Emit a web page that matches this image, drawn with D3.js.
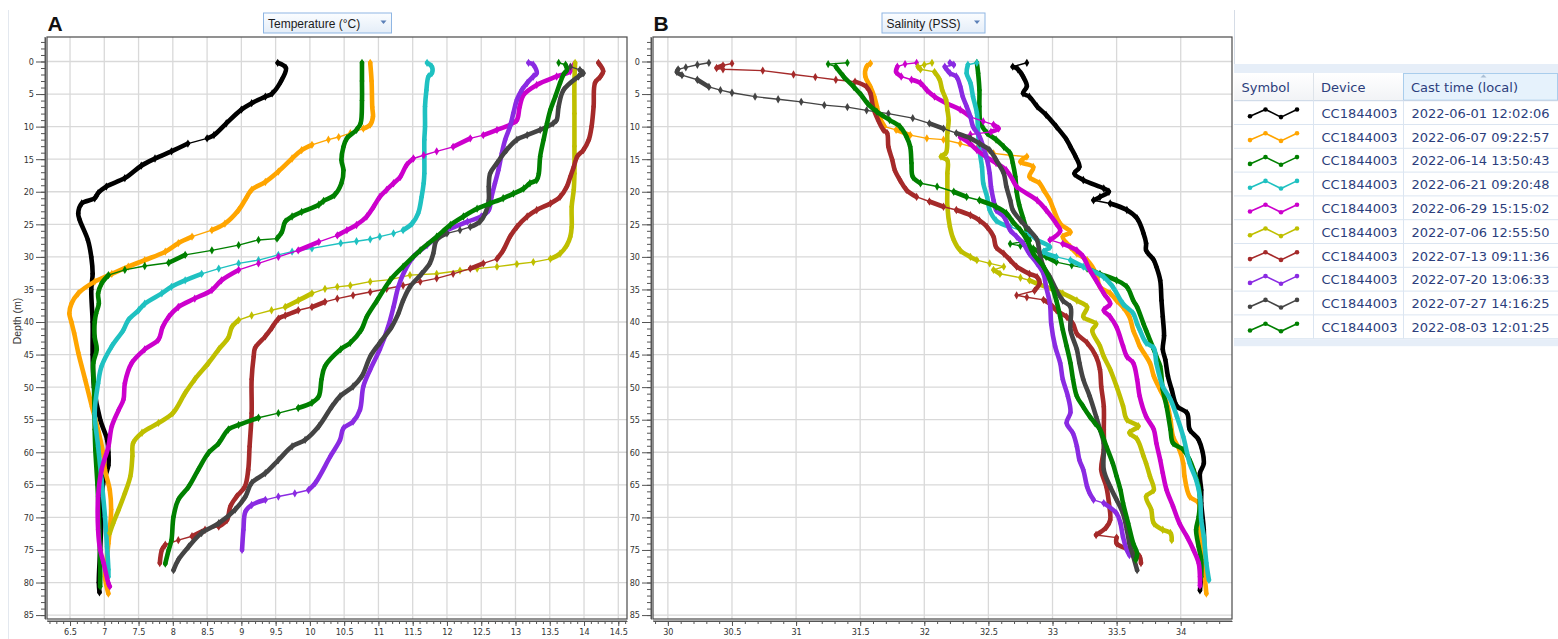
<!DOCTYPE html>
<html><head><meta charset="utf-8">
<script src="https://cdn.jsdelivr.net/npm/d3@7"></script>
<style>body{margin:0;background:#fff;}svg{display:block;}</style>
</head><body>
<svg id="c" width="1558" height="639"></svg>
<script>
// ---------- DATA ----------
const castTimes = ["2022-06-01 12:02:06","2022-06-07 09:22:57","2022-06-14 13:50:43","2022-06-21 09:20:48","2022-06-29 15:15:02","2022-07-06 12:55:50","2022-07-13 09:11:36","2022-07-20 13:06:33","2022-07-27 14:16:25","2022-08-03 12:01:25"];
const devices = ["CC1844003","CC1844003","CC1844003","CC1844003","CC1844003","CC1844003","CC1844003","CC1844003","CC1844003","CC1844003"];
const colors = ["#000000","#FFA500","#008000","#1FC1C1","#CC00CC","#BFBF00","#A52A2A","#8A2BE2","#444444","#008000"];
const depthTicks = [0,5,10,15,20,25,30,35,40,45,50,55,60,65,70,75,80,85];
const tempTicks = [6.5,7,7.5,8,8.5,9,9.5,10,10.5,11,11.5,12,12.5,13,13.5,14,14.5];
const salTicks = [30,30.5,31,31.5,32,32.5,33,33.5,34];

// temperature profiles: [depth m, temperature °C]
const temp01 = [[0.2,9.53],[1,9.65],[3,9.58],[4.9,9.45],[5.4,9.35],[6.4,9.15],[7.4,9.0],[9.5,8.78],[11.3,8.6],[11.8,8.5],[12.6,8.22],[13.8,7.98],[14.9,7.74],[16,7.54],[17.9,7.3],[19.2,7.03],[20.2,6.91],[21,6.86],[21.8,6.67],[23.3,6.62],[24.3,6.64],[27.4,6.76],[30,6.81],[32.6,6.83],[35,6.81],[40,6.83],[45,6.83],[50,6.85],[55,6.94],[58,7.04],[60,7.06],[62,7.06],[65,6.98],[70,6.96],[75,6.94],[80,6.92],[81.5,6.93]];
const temp02 = [[0.2,10.88],[3,10.9],[7,10.91],[8.5,10.92],[9.7,10.88],[10.3,10.78],[11,10.59],[11.6,10.42],[12,10.27],[12.8,10.03],[13.6,9.88],[14.9,9.74],[16.9,9.54],[18.5,9.35],[19.7,9.15],[20.8,9.08],[22.8,8.96],[24.9,8.76],[25.9,8.57],[26.9,8.28],[27.9,8.08],[29.2,7.89],[30.5,7.59],[31.5,7.35],[32.6,7.11],[33.8,6.86],[35.6,6.62],[37.2,6.52],[38.7,6.49],[40,6.52],[41.7,6.56],[44.7,6.62],[48.8,6.72],[53,6.82],[57,6.92],[60.6,6.99],[62.7,7.01],[65.8,7.08],[68.8,7.1],[71.9,7.08],[74,7.06],[77,7.03],[79.1,7.01],[81.7,7.06]];
const temp03 = [[0.2,10.76],[3,10.76],[6,10.76],[9.5,10.74],[10.5,10.68],[11.8,10.54],[13.1,10.49],[15.1,10.46],[16.7,10.49],[18.7,10.46],[20.5,10.36],[21.4,10.2],[22,10.13],[23.1,9.88],[23.8,9.74],[24.6,9.64],[26.2,9.59],[27.2,9.52],[27.4,9.25],[28.2,8.96],[29,8.57],[29.7,8.18],[30.9,7.94],[31.4,7.59],[32,7.3],[32.8,7.06],[34.1,6.96],[35.6,6.91],[37.2,6.92],[38.7,6.88],[40,6.86],[42.3,6.86],[44.2,6.89],[46.3,6.84],[50,6.85],[56.5,6.86],[59.7,6.87],[65,6.9],[70,6.92],[77,6.94],[80.6,6.94]];
const temp04 = [[0.2,11.71],[0.8,11.78],[1.8,11.78],[2.3,11.73],[4.4,11.7],[6.9,11.68],[10,11.68],[12,11.67],[14.6,11.67],[17.2,11.67],[18.7,11.66],[20.8,11.63],[23.3,11.58],[24.9,11.49],[25.9,11.36],[26.4,11.22],[26.9,11.02],[27.3,10.88],[27.6,10.68],[27.9,10.45],[28.7,10.03],[29.2,9.74],[29.7,9.54],[30.5,9.25],[31,8.96],[31.8,8.67],[32.6,8.42],[33.6,8.18],[34.6,7.98],[35.6,7.84],[37.2,7.59],[38.2,7.5],[39.7,7.35],[41.2,7.28],[43.7,7.11],[46.8,6.96],[49.4,6.91],[54,6.86],[59.1,6.91],[64.2,6.96],[69.9,7.01],[74.5,7.04],[78,7.06],[79.1,7.06]];
const temp05 = [[0.5,13.85],[1.5,13.8],[2.3,13.6],[3.6,13.31],[5.1,13.12],[7,13.06],[9,13.02],[9.7,12.92],[10.5,12.73],[11.3,12.53],[11.8,12.34],[13.1,12.09],[13.8,11.85],[14.4,11.66],[14.9,11.51],[15.9,11.41],[17.7,11.32],[18.7,11.22],[19.7,11.12],[20.8,11.02],[22.3,10.93],[23.8,10.83],[25.1,10.68],[25.9,10.54],[26.7,10.4],[27.7,10.13],[29,9.83],[30,9.54],[31,9.25],[32,8.96],[33.6,8.71],[35.1,8.57],[36.4,8.32],[37.7,8.08],[39.2,7.94],[40.8,7.85],[42.7,7.79],[44.2,7.59],[46.3,7.4],[49.4,7.3],[51.9,7.28],[53.5,7.21],[56,7.11],[59.1,7.06],[62.7,6.96],[66.8,6.91],[71.9,6.91],[75,6.94],[77,6.99],[80.1,7.06],[80.6,7.08]];
const temp06 = [[0.2,13.87],[3,13.86],[8,13.86],[13,13.86],[17.2,13.86],[19.7,13.85],[22.3,13.82],[25.4,13.82],[26.9,13.8],[28.2,13.75],[29.5,13.65],[30.3,13.51],[30.8,13.26],[31.1,13.02],[31.5,12.73],[31.8,12.44],[32.1,12.19],[32.6,11.85],[32.8,11.46],[33.5,11.17],[33.8,10.88],[34.4,10.59],[34.6,10.4],[34.9,10.22],[35.6,10.03],[36.7,9.83],[37.7,9.64],[38.2,9.44],[39,9.15],[39.7,8.96],[40.8,8.86],[42.4,8.81],[44.2,8.67],[46.3,8.52],[48.8,8.32],[50.9,8.18],[54,8.0],[55.5,7.79],[57,7.55],[58.6,7.42],[60.6,7.41],[63.7,7.38],[66.3,7.3],[68.8,7.21],[70.9,7.13],[72.4,7.08]];
const temp07 = [[0.2,14.21],[1.5,14.28],[2.3,14.24],[3.3,14.16],[6.9,14.14],[10,14.11],[12,14.07],[13.6,13.99],[14.6,13.9],[16.2,13.85],[17.7,13.8],[19.2,13.75],[20.8,13.65],[21.8,13.51],[22.8,13.31],[23.8,13.17],[25.4,13.02],[26.9,12.92],[29,12.82],[30.3,12.73],[31,12.53],[31.8,12.34],[32.6,12.09],[33.3,11.85],[33.8,11.61],[34.4,11.36],[34.9,11.12],[35.4,10.88],[35.9,10.63],[36.4,10.4],[36.9,10.22],[37.7,10.03],[38.2,9.83],[39,9.64],[39.5,9.54],[40.8,9.45],[42.2,9.35],[44,9.2],[45.3,9.18],[48.8,9.15],[54,9.15],[59.1,9.12],[62.7,9.1],[65.3,9.05],[66.8,8.93],[68.3,8.84],[70.4,8.79],[71.4,8.67],[71.9,8.47],[72.9,8.28],[73.5,8.08],[74.2,7.89],[75,7.84],[77,7.81]];
const temp08 = [[0.2,13.19],[0.5,13.26],[1.8,13.31],[2.3,13.26],[3.3,13.17],[4.4,13.09],[5.9,13.02],[7.9,12.97],[10,12.92],[12,12.85],[14.1,12.8],[16.7,12.75],[18.7,12.7],[20.8,12.65],[22.8,12.61],[23.8,12.5],[24.6,12.3],[26.2,11.95],[28.2,11.71],[30,11.51],[32,11.39],[34.6,11.29],[37.7,11.22],[40.8,11.14],[44.2,11.02],[47.3,10.88],[49.9,10.78],[53.5,10.73],[55.3,10.63],[56.3,10.49],[58.1,10.44],[60.6,10.3],[64.7,10.08],[65.8,9.98],[66.3,9.78],[66.8,9.54],[67.3,9.35],[68.1,9.15],[69.1,9.06],[71.9,9.03],[75,9.01]];
const temp09 = [[0.8,13.8],[1.3,13.94],[1.8,13.99],[2.3,13.92],[4.4,13.7],[6.9,13.63],[9,13.6],[9.5,13.55],[10.5,13.36],[11.3,13.17],[12,13.02],[13.6,12.87],[15.6,12.73],[17.2,12.63],[19.2,12.61],[21.3,12.61],[23.3,12.56],[24.6,12.48],[25.4,12.34],[25.9,12.19],[26.4,12.0],[27.4,11.85],[29.5,11.8],[31,11.75],[32.6,11.63],[34.6,11.46],[36.7,11.36],[38.7,11.29],[40.8,11.19],[43.2,11.02],[45.3,10.88],[48.3,10.76],[49.9,10.63],[51.4,10.44],[53,10.32],[56,10.13],[58.1,9.93],[59.1,9.74],[61.2,9.54],[63.2,9.35],[64.7,9.15],[66.8,9.06],[68.8,8.91],[70.9,8.67],[72.4,8.42],[74.5,8.23],[76.5,8.08],[78.1,8.01]];
const temp10 = [[0.2,13.63],[0.5,13.73],[1.3,13.75],[2,13.7],[3.3,13.65],[5.4,13.58],[7.4,13.51],[9.5,13.46],[12,13.41],[14.6,13.36],[17.2,13.34],[18.2,13.31],[18.7,13.21],[19.5,13.12],[20.3,12.97],[21,12.82],[21.8,12.63],[22.6,12.44],[23.8,12.24],[25.1,12.05],[26.9,11.85],[29,11.61],[31.5,11.36],[33.6,11.17],[36.7,10.98],[39.2,10.83],[41.2,10.75],[43.2,10.59],[44.2,10.45],[46.8,10.22],[48.8,10.17],[51.4,10.13],[52.4,10.03],[53.2,9.83],[54,9.54],[54.7,9.25],[55.8,8.96],[56.5,8.81],[58.6,8.67],[60.1,8.52],[62.7,8.37],[65.3,8.23],[67.3,8.08],[69.9,8.01],[73.5,7.98],[75,7.94],[77.1,7.89]];

// salinity profiles: [depth m, salinity PSS]
const sal01 = [[0.2,32.8],[0.8,32.69],[1.2,32.73],[2.3,32.77],[3.8,32.8],[4.9,32.77],[5.4,32.82],[6.9,32.88],[8.2,32.95],[10,33.03],[12,33.11],[13.1,33.14],[14.6,33.18],[16.2,33.21],[17.2,33.17],[18.2,33.24],[19.5,33.4],[20,33.44],[20.8,33.37],[21.3,33.32],[21.8,33.45],[22.8,33.58],[24.1,33.66],[26.4,33.71],[27.9,33.73],[29,33.73],[30.5,33.79],[31.5,33.81],[33.6,33.84],[36.7,33.85],[39.2,33.86],[42.1,33.87],[44.2,33.86],[45.8,33.88],[48.3,33.9],[50.4,33.93],[52.9,33.97],[54,34.05],[56.5,34.07],[58.1,34.14],[61.7,34.18],[63.2,34.15],[65.8,34.16],[67.8,34.16],[71.9,34.18],[76,34.18],[79.1,34.16],[81.2,34.15]];
const sal02 = [[0.3,31.58],[0.8,31.55],[2.3,31.54],[3.9,31.58],[5.4,31.61],[6.9,31.63],[8.5,31.65],[10,31.69],[10.5,31.78],[11.3,31.89],[11.8,32.02],[12,32.15],[12.6,32.28],[13.3,32.41],[14.1,32.54],[14.4,32.67],[14.6,32.8],[15.4,32.75],[16.2,32.85],[17.7,32.82],[18.7,32.9],[19.7,32.93],[21.3,32.98],[22.8,33.01],[24.9,33.06],[26.2,33.14],[26.9,33.08],[28.5,33.14],[29.5,33.19],[30.5,33.27],[32.6,33.34],[34.6,33.37],[35.6,33.45],[36.7,33.5],[37.7,33.55],[39.2,33.6],[41.3,33.63],[42.7,33.66],[43.7,33.68],[46.3,33.76],[48.3,33.79],[50.4,33.84],[52.4,33.89],[55,33.92],[57.6,33.94],[59.6,33.99],[61.7,34.02],[63.7,34.03],[66.8,34.07],[67.8,34.14],[70.9,34.15],[74.5,34.16],[77,34.18],[79.6,34.19],[81.7,34.2]];
const sal03 = [[0.2,32.41],[1.8,32.42],[4.4,32.43],[6.9,32.43],[9.5,32.44],[11,32.49],[12,32.56],[13.1,32.62],[14.1,32.67],[15.6,32.69],[17.7,32.71],[20,32.72],[22,32.74],[24,32.77],[26,32.8],[27.5,32.82],[28,32.67],[28.3,32.75],[28.7,32.85],[30,32.95],[30.8,33.03],[31.3,33.15],[31.8,33.27],[32.6,33.37],[33.6,33.5],[34.6,33.58],[36.7,33.63],[37.7,33.66],[40.3,33.71],[41.3,33.73],[44.2,33.79],[45.3,33.81],[46.8,33.84],[50.4,33.86],[53,33.89],[56.5,33.92],[58.6,33.94],[59.6,34.02],[61.2,34.07],[62.7,34.1],[65.3,34.14],[67.3,34.15],[69.9,34.14],[71.9,34.12],[74.5,34.14],[76.5,34.16],[79.1,34.16]];
const sal04 = [[0.2,32.41],[0.5,32.34],[1.8,32.33],[3.3,32.36],[5.4,32.38],[7.9,32.41],[11,32.42],[13.6,32.43],[16.2,32.45],[18.7,32.46],[20.8,32.49],[22.8,32.51],[24.4,32.56],[25.4,32.67],[26.4,32.82],[27.4,32.88],[28.5,32.98],[29.2,32.93],[30,33.03],[30.5,33.14],[31.5,33.24],[33.1,33.4],[34.6,33.47],[37.2,33.55],[38.7,33.63],[40.3,33.66],[41.2,33.68],[43.2,33.73],[44,33.79],[46.3,33.81],[49.9,33.86],[51.9,33.92],[54.5,33.97],[57.6,34.02],[61.7,34.07],[64.2,34.12],[66.8,34.15],[70.4,34.16],[72.9,34.18],[77,34.2],[79.6,34.22]];
const sal05 = [[0.2,31.94],[0.4,31.85],[0.8,31.79],[1.6,31.78],[2.3,31.82],[2.8,31.9],[3.3,31.97],[4.4,32.02],[5.4,32.08],[6.4,32.17],[7.4,32.28],[8.5,32.36],[9.2,32.46],[9.7,32.54],[10.3,32.58],[10.8,32.52],[11.2,32.36],[11.6,32.28],[12.5,32.35],[13.6,32.41],[14.6,32.48],[15.6,32.56],[16.7,32.64],[18.2,32.69],[19.2,32.72],[21.3,32.88],[22.8,32.95],[24.9,33.03],[26,33.06],[27.4,32.98],[28,33.08],[29,33.19],[30,33.24],[32,33.29],[33.6,33.34],[35.6,33.4],[37.2,33.45],[38.2,33.4],[39.2,33.45],[40.8,33.5],[43.7,33.55],[45.3,33.58],[46.3,33.63],[48.8,33.66],[51.4,33.68],[54.5,33.73],[56.5,33.79],[58.6,33.81],[61.2,33.84],[63.2,33.86],[65.8,33.89],[68.3,33.94],[70.9,33.99],[73,34.05],[75,34.1],[77,34.14],[79.1,34.15],[80.5,34.15]];
const sal06 = [[0.2,32.06],[0.5,32.0],[0.8,31.95],[1.2,31.97],[1.6,32.08],[2.8,32.12],[4.4,32.14],[5.9,32.17],[7.4,32.18],[9,32.19],[11,32.18],[14,32.17],[14.6,32.13],[15.2,32.18],[17.2,32.18],[19.7,32.18],[22.3,32.18],[25.4,32.2],[27.4,32.23],[29,32.28],[30,32.36],[30.5,32.41],[31,32.51],[31.5,32.62],[32,32.54],[32.6,32.59],[33.2,32.75],[33.6,32.82],[34.1,32.88],[35.6,33.08],[36.7,33.19],[37.7,33.27],[39.2,33.24],[40.3,33.34],[41.3,33.31],[43.7,33.37],[45.3,33.4],[47.3,33.45],[49.9,33.5],[52.9,33.55],[55,33.58],[56,33.67],[57,33.6],[58,33.66],[60.6,33.71],[61.7,33.73],[63.7,33.76],[65.8,33.79],[66.8,33.73],[68.8,33.77],[70.9,33.79],[71.9,33.86],[72.4,33.92],[73.5,33.93]];
const sal07 = [[0.3,30.5],[0.6,30.43],[1,30.38],[1.2,30.43],[1.4,30.74],[2,30.98],[2.4,31.15],[2.8,31.31],[3.1,31.46],[3.9,31.55],[4.9,31.58],[7,31.6],[9,31.64],[10.5,31.68],[11,31.71],[13.1,31.72],[15.1,31.75],[16.7,31.77],[18.2,31.81],[19.7,31.86],[20.8,31.94],[21.5,32.04],[22.3,32.15],[22.8,32.25],[23.6,32.36],[24.4,32.43],[25.4,32.49],[26.9,32.54],[28.5,32.56],[29.5,32.62],[30.5,32.67],[31.5,32.72],[32.6,32.82],[33.1,32.88],[34,32.9],[35.2,32.86],[35.9,32.72],[36.2,32.8],[36.6,32.93],[37.2,32.98],[38.2,33.03],[39.2,33.11],[40.3,33.16],[41.8,33.19],[43.2,33.27],[45.3,33.34],[47.3,33.37],[49.9,33.38],[53,33.4],[56.5,33.4],[59.6,33.4],[62.7,33.38],[65.3,33.42],[67.8,33.44],[70.4,33.45],[71.5,33.42],[72.7,33.34],[73.1,33.5],[74,33.5],[75,33.6],[76,33.68],[77,33.69]];
const sal08 = [[0.2,32.2],[0.5,32.23],[0.8,32.16],[1.8,32.2],[2.3,32.25],[3.8,32.28],[5.4,32.3],[6.9,32.33],[8.5,32.36],[10,32.38],[11.5,32.43],[13.1,32.46],[15.1,32.49],[17.2,32.51],[19.2,32.52],[21.3,32.54],[22.8,32.56],[23.8,32.62],[25.9,32.67],[26.9,32.72],[27.9,32.77],[29.5,32.82],[31,32.88],[32.6,32.93],[34.6,32.95],[37.2,32.98],[40.3,32.99],[43.7,33.02],[46.3,33.06],[48.8,33.08],[51.4,33.12],[53.9,33.14],[55.5,33.11],[57.1,33.16],[59.1,33.19],[61.2,33.21],[62.7,33.24],[65.3,33.27],[66.3,33.29],[67.3,33.32],[67.8,33.4],[69.4,33.5],[70.9,33.53],[73,33.55],[75,33.58],[75.8,33.6]];
const sal09 = [[0.2,30.32],[0.5,30.23],[0.9,30.14],[1.2,30.08],[1.6,30.07],[2.1,30.11],[2.8,30.23],[3.9,30.32],[4.4,30.41],[4.8,30.5],[5.4,30.68],[5.8,30.86],[6.2,31.04],[6.7,31.22],[7,31.4],[7.5,31.55],[8,31.72],[8.7,31.91],[9.5,32.04],[10.3,32.15],[11,32.25],[11.8,32.36],[12.6,32.43],[13.6,32.51],[15.1,32.56],[17.2,32.62],[19.2,32.64],[21.3,32.67],[22.8,32.69],[24.4,32.75],[25.9,32.82],[27.4,32.88],[29.5,32.9],[31.5,32.93],[33.1,32.98],[35.1,33.03],[36.7,33.08],[37.7,33.14],[41.2,33.14],[44.2,33.19],[46.3,33.21],[48.8,33.24],[51.4,33.29],[54.5,33.34],[56.5,33.37],[58.6,33.4],[62.7,33.4],[65.3,33.45],[67.3,33.5],[69.4,33.55],[71.9,33.58],[74,33.6],[76,33.63],[78.1,33.66]];
const sal10 = [[0.2,31.4],[0.4,31.25],[0.8,31.31],[2.3,31.37],[3.9,31.45],[5.2,31.51],[6.5,31.56],[7.7,31.63],[9,31.73],[10,31.81],[11.5,31.86],[13.1,31.89],[15.6,31.9],[17.7,31.91],[18.7,31.97],[19.2,32.1],[20,32.23],[20.8,32.33],[21.3,32.43],[22.3,32.56],[23.3,32.64],[24.6,32.69],[25.9,32.75],[27.4,32.8],[29.5,32.85],[31.5,32.93],[33.6,32.98],[36.7,33.03],[39.2,33.06],[41.2,33.08],[43.7,33.11],[46.3,33.14],[48.8,33.16],[51.4,33.19],[53,33.24],[54.5,33.29],[55.5,33.33],[56.5,33.37],[59.1,33.42],[61.7,33.47],[63.7,33.5],[65.8,33.53],[67.8,33.55],[70.9,33.59],[74,33.63],[75.5,33.66],[76.5,33.65]];

const tempSeries = [temp01,temp02,temp03,temp04,temp05,temp06,temp07,temp08,temp09,temp10];
const salSeries = [sal01,sal02,sal03,sal04,sal05,sal06,sal07,sal08,sal09,sal10];

// ---------- DRAW ----------
const svg = d3.select("#c");
const TICKFONT = "'DejaVu Sans Condensed','Liberation Sans',Arial,sans-serif";
const UIFONT = "'DejaVu Sans',Verdana,sans-serif";
const plotTop = 37, plotBottom = 619;
const y = d3.scaleLinear().domain([-3.76, 85.6]).range([plotTop, plotBottom]);

svg.append("line").attr("x1",8.5).attr("x2",8.5).attr("y1",10).attr("y2",639).attr("stroke","#e3e8ef");
svg.append("line").attr("x1",1234.5).attr("x2",1234.5).attr("y1",10).attr("y2",64).attr("stroke","#d5dce6");

const defs = svg.append("defs");
const gr = defs.append("linearGradient").attr("id","ddg").attr("x1",0).attr("x2",0).attr("y1",0).attr("y2",1);
gr.append("stop").attr("offset","0%").attr("stop-color","#fbfdff");
gr.append("stop").attr("offset","100%").attr("stop-color","#e4edf8");
const hg = defs.append("linearGradient").attr("id","hdg").attr("x1",0).attr("x2",0).attr("y1",0).attr("y2",1);
hg.append("stop").attr("offset","0%").attr("stop-color","#ffffff");
hg.append("stop").attr("offset","100%").attr("stop-color","#f1f3f6");

const panels = [
  {letter:"A", x0:47, x1:627, domain:[6.164,14.627], majors:tempTicks, minors:d3.range(62,147).map(v=>v/10), series:tempSeries,
   dd:{x:263.5,w:128,text:"Temperature (°C)"}, depthLabel:true},
  {letter:"B", x0:653, x1:1232, domain:[29.884,34.40], majors:salTicks, minors:d3.range(299,344).map(v=>v/10), series:salSeries,
   dd:{x:882,w:103,text:"Salinity (PSS)"}, depthLabel:false}
];

panels.forEach(p => {
  const x = d3.scaleLinear().domain(p.domain).range([p.x0, p.x1]);
  const g = svg.append("g");

  g.append("g").selectAll("line").data(p.majors).join("line")
    .attr("x1", d=>x(d)).attr("x2", d=>x(d)).attr("y1", plotTop).attr("y2", plotBottom)
    .attr("stroke","#d9d9d9").attr("stroke-width",1.3);
  g.append("g").selectAll("line").data(depthTicks).join("line")
    .attr("x1", p.x0).attr("x2", p.x1).attr("y1", d=>y(d)).attr("y2", d=>y(d))
    .attr("stroke","#d9d9d9").attr("stroke-width",1.3);

  const yMinor = g.append("g").attr("transform",`translate(${p.x0-2},0)`)
    .call(d3.axisLeft(y).tickValues(d3.range(-3,86)).tickSize(4).tickSizeOuter(0).tickFormat(""));
  const yMajor = g.append("g").attr("transform",`translate(${p.x0-2},0)`)
    .call(d3.axisLeft(y).tickValues(depthTicks).tickSize(9).tickSizeOuter(0).tickPadding(2).tickFormat(d3.format("d")));
  const xMinor = g.append("g").attr("transform",`translate(0,${plotBottom+2})`)
    .call(d3.axisBottom(x).tickValues(p.minors).tickSize(3).tickSizeOuter(0).tickFormat(""));
  const xMajor = g.append("g").attr("transform",`translate(0,${plotBottom+2})`)
    .call(d3.axisBottom(x).tickValues(p.majors).tickSize(5).tickSizeOuter(0).tickPadding(3).tickFormat(d3.format("~g")));
  [yMinor,yMajor,xMinor,xMajor].forEach(a=>{
    a.selectAll("path,line").attr("stroke","#555");
    a.selectAll("text").attr("fill","#333").attr("font-size",9).attr("font-family",TICKFONT);
  });
  xMinor.select(".domain").attr("d",`M${p.x0},0H${p.x1}`);
  yMinor.select(".domain").attr("d",`M0,${plotTop}V${plotBottom}`);

  const clipId = "clip"+p.letter;
  defs.append("clipPath").attr("id",clipId).append("rect").attr("x",p.x0).attr("y",plotTop).attr("width",p.x1-p.x0).attr("height",plotBottom-plotTop);
  const dg = g.append("g").attr("clip-path",`url(#${clipId})`);
  p.series.forEach((s,i) => {
    const pts = s.map(([d,v]) => [x(v), y(d)]);
    const sg = dg.append("g");
    sg.append("path").attr("d", d3.line()(pts)).attr("fill","none")
      .attr("stroke", colors[i]).attr("stroke-width",1.4).attr("stroke-linejoin","round");
    let run = [];
    const runs = [];
    for (let k=1;k<pts.length;k++){
      const dx = Math.abs(pts[k][0]-pts[k-1][0]), dy = Math.abs(pts[k][1]-pts[k-1][1]);
      const thick = !(dx > 2.8*dy && dx > 6);
      if (thick){ if(!run.length) run.push(pts[k-1]); run.push(pts[k]); }
      else if (run.length){ runs.push(run); run=[]; }
    }
    if (run.length) runs.push(run);
    sg.selectAll("path.band").data(runs).join("path").attr("class","band")
      .attr("d", r=>d3.line().curve(d3.curveCatmullRom.alpha(0.5))(r)).attr("fill","none")
      .attr("stroke", colors[i]).attr("stroke-width",4.6)
      .attr("stroke-linecap","round").attr("stroke-linejoin","round");
    sg.selectAll("path.mk").data(pts).join("path").attr("class","mk")
      .attr("transform", q=>`translate(${q[0]},${q[1]})`)
      .attr("d", d3.symbol().type(d3.symbolDiamond).size(20)())
      .attr("fill", colors[i]);
  });

  g.append("rect").attr("x",p.x0).attr("y",plotTop).attr("width",p.x1-p.x0).attr("height",plotBottom-plotTop)
    .attr("fill","none").attr("stroke","#4a4a4a").attr("stroke-width",1.2);

  svg.append("text").attr("x",p.x0+0.5).attr("y",30.5).text(p.letter)
    .attr("font-family","'Liberation Sans',Arial,sans-serif").attr("font-weight","bold").attr("font-size",21).attr("fill","#111");

  const dd = svg.append("g");
  dd.append("rect").attr("x",p.dd.x).attr("y",13).attr("width",p.dd.w).attr("height",20)
    .attr("fill","url(#ddg)").attr("stroke","#8fb6e3").attr("stroke-width",1);
  dd.append("text").attr("x",p.dd.x+4.5).attr("y",27.5).text(p.dd.text)
    .attr("font-family","'Liberation Sans',Arial,sans-serif").attr("font-size",12).attr("fill","#1b1b1b");
  const ax = p.dd.x+p.dd.w-8, ay = 22;
  dd.append("path").attr("d",`M${ax-3},${ay-1.5}L${ax+3},${ay-1.5}L${ax},${ay+2}Z`).attr("fill","#5b80b8");

  if (p.depthLabel){
    svg.append("text").attr("transform",`translate(20.5,321) rotate(-90)`).attr("text-anchor","middle")
      .text("Depth (m)").attr("font-family","'Liberation Sans',Arial,sans-serif").attr("font-size",10.5).attr("fill","#333");
  }
});

// ---------- LEGEND TABLE ----------
const L = svg.append("g");
const tx0 = 1234, tx1 = 1558, colA = 1313.5, colB = 1403.5;
const hdrTop = 73, hdrBot = 100.7, rowH = 23.8;
L.append("rect").attr("x",tx0).attr("y",64).attr("width",tx1-tx0).attr("height",9).attr("fill","#e6eef8");
L.append("rect").attr("x",tx0).attr("y",hdrTop).attr("width",tx1-tx0).attr("height",hdrBot-hdrTop).attr("fill","url(#hdg)");
L.append("rect").attr("x",colB).attr("y",hdrTop+0.5).attr("width",tx1-colB-0.5).attr("height",hdrBot-hdrTop-1)
  .attr("fill","#e6f2fc").attr("stroke","#a9cdec");
L.append("line").attr("x1",tx0).attr("x2",tx1).attr("y1",hdrBot).attr("y2",hdrBot).attr("stroke","#c9d6e6");
L.append("line").attr("x1",colA).attr("x2",colA).attr("y1",hdrTop).attr("y2",hdrBot).attr("stroke","#dde3ea");
L.append("path").attr("d","M1480.5,77.5L1486.5,77.5L1483.5,74.5Z").attr("fill","#a9bed4");
const headers = [["Symbol",1241.5],["Device",1321],["Cast time (local)",1411]];
L.selectAll("text.h").data(headers).join("text").attr("class","h")
  .attr("x",d=>d[1]).attr("y",92).text(d=>d[0])
  .attr("font-family",UIFONT).attr("font-size",13).attr("fill","#2c3e7c");

const rowsTop = hdrBot;
const rows = L.selectAll("g.row").data(castTimes).join("g").attr("class","row")
  .attr("transform",(d,i)=>`translate(0,${rowsTop + i*rowH})`);
rows.append("line").attr("x1",tx0).attr("x2",tx1).attr("y1",rowH).attr("y2",rowH).attr("stroke","#dbe5f1");
rows.append("line").attr("x1",colA).attr("x2",colA).attr("y1",0).attr("y2",rowH).attr("stroke","#dbe5f1");
rows.append("line").attr("x1",colB).attr("x2",colB).attr("y1",0).attr("y2",rowH).attr("stroke","#dbe5f1");
const zig = [[0,3.4],[15.5,-3.4],[31,4.2],[47,-3.4]];
rows.each(function(d,i){
  const r = d3.select(this), cy = rowH/2 + 0.3;
  const zp = zig.map(([a,b])=>[1250+a, cy+b]);
  r.append("path").attr("d", d3.line()(zp)).attr("fill","none").attr("stroke",colors[i]).attr("stroke-width",1.6);
  r.selectAll("circle").data(zp).join("circle").attr("cx",q=>q[0]).attr("cy",q=>q[1]).attr("r",2.3).attr("fill",colors[i]);
  r.append("text").attr("x",1321.5).attr("y",cy+4.8).text(devices[i])
    .attr("font-family",UIFONT).attr("font-size",13).attr("fill","#2c3e7c");
  r.append("text").attr("x",1411.5).attr("y",cy+4.8).text(d)
    .attr("font-family",UIFONT).attr("font-size",13).attr("fill","#2c3e7c");
});
L.append("rect").attr("x",tx0).attr("y",rowsTop+10*rowH+0.5).attr("width",tx1-tx0).attr("height",7).attr("fill","#e6eef8");
</script>
</body></html>
